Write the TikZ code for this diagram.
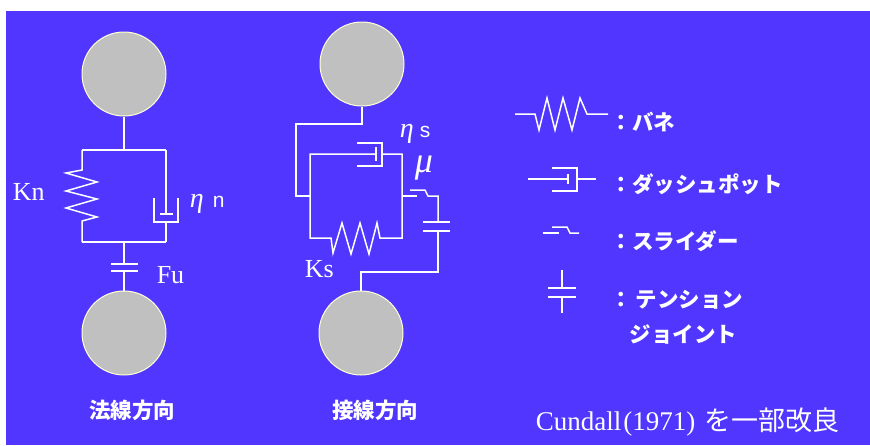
\documentclass[tikz,border=0pt]{standalone}
\usepackage{fontspec}
\setmainfont{Liberation Serif}
\setsansfont{Liberation Sans}
\newfontfamily\jpfont{Noto Sans CJK JP}
\usetikzlibrary{positioning}

\definecolor{bgblue}{RGB}{80,54,255}
\definecolor{ballgray}{RGB}{192,192,192}
\definecolor{rimyellow}{RGB}{255,255,215}

\tikzset{
  ball/.style={circle,draw=rimyellow,line width=1pt,fill=ballgray,
               minimum size=84pt,inner sep=0pt},
  lbl/.style={text=white,inner sep=0pt},
  sym/.style={lbl,font=\fontsize{26}{26}\selectfont},
  greek/.style={lbl,font=\itshape\fontsize{28}{28}\selectfont},
  jp/.style={lbl,font=\jpfont\bfseries\fontsize{21.5}{21.5}\selectfont},
}

\begin{document}
\begin{tikzpicture}[x=1pt,y=-1pt,line width=1.5pt,draw=white]

  \useasboundingbox (0,0) rectangle (870,445);
  \fill[white] (0,0) rectangle (870,445);
  \fill[bgblue] (6,11) rectangle (870,445);

  % normal direction
  \node[ball] (nTop) at (124,74)  {};
  \node[ball] (nBot) at (124,333) {};
  \coordinate (nUp)  at (124,150);
  \coordinate (nLow) at (124,242);
  \draw (nTop.south) -- (nUp);
  \draw (82,150) -- (166,150);
  \draw (82,150) -- (82,170) -- (66,173) -- (97,182) -- (66,191) -- (97,199)
        -- (66,208) -- (97,217) -- (82,221) -- (82,242);
  \draw (166,150) -- (166,214);
  \draw (160,214) -- (173,214);
  \draw (154,198) -- (154,222) -- (178,222) -- (178,198);
  \draw (166,222) -- (166,242);
  \draw (82,242) -- (166,242);
  \draw (nLow) -- (124,264);
  \draw (111,264) -- (138,264);
  \draw (111,271) -- (138,271);
  \draw (124,271) -- (nBot.north);

  \node[sym,anchor=base west] (kn) at (12,200)  {Kn};
  \node[greek,anchor=base west] (etan) at (189,207) {η};
  \node[lbl,anchor=base west,font=\sffamily\fontsize{21}{21}\selectfont]
        (n) at (212,207) {n};
  \node[sym,anchor=base west] (fu) at (156,283) {Fu};
  \node[jp] (normal) at (132,410) {法線方向};

  % shear direction
  \node[ball] (sTop) at (362,64)  {};
  \node[ball] (sBot) at (361,333) {};
  \draw (sTop.south) -- (362,124) -- (296,124) -- (296,196) -- (310,196);
  \draw (376,154) -- (310,154) -- (310,238) -- (331,238) -- (333,253)
        -- (342,223) -- (351,254) -- (360,223) -- (369,254) -- (377,223)
        -- (380,238) -- (402,238) -- (402,154) -- (382,154);
  \draw (376,147) -- (376,161);
  \draw (357,143) -- (382,143) -- (382,166) -- (357,166);
  \draw (402,196) -- (417,196);
  \draw (410,190) -- (425,190) -- (428,196) -- (438,196) -- (438,222);
  \draw (423,222) -- (450,222);
  \draw (423,231) -- (450,231);
  \draw (438,231) -- (438,272) -- (361,272) -- (sBot.north);

  \node[greek,anchor=base west] (etas) at (399,137) {η};
  \node[lbl,anchor=base west,font=\sffamily\fontsize{21}{21}\selectfont]
        (s) at (419,137) {s};
  \node[lbl,anchor=base west,font=\itshape\fontsize{36}{36}\selectfont]
        (mu) at (414,172) {μ};
  \node[sym,anchor=base west] (ks) at (304,277) {Ks};
  \node[jp] (shear) at (375,410) {接線方向};

  % legend
  \draw (515,114) -- (535,114) -- (539,130) -- (547,98) -- (555,130)
        -- (563,98) -- (572,130) -- (580,98) -- (587,114) -- (608,114);
  \draw (528,179) -- (568,179);
  \draw (568,174) -- (568,184);
  \draw (552,168) -- (577,168) -- (577,191) -- (552,191);
  \draw (577,179) -- (596,179);
  \draw (543,233) -- (559,233);
  \draw (552,227) -- (567,227) -- (570,233) -- (579,233);
  \draw (562,270) -- (562,288);
  \draw (548,288) -- (576,288);
  \draw (548,297) -- (576,297);
  \draw (562,297) -- (562,313);

  \node[jp,anchor=west] (spring) at (610,122) {：バネ};
  \node[jp,anchor=west] (dash)   at (610,184) {：ダッシュポット};
  \node[jp,anchor=west] (slide)  at (610,241) {：スライダー};
  \node[jp,anchor=west] (tens)   at (610,300) {：\,テンション};
  \node[jp,anchor=west] (joint)  at (629,334) {ジョイント};

  \node[lbl,anchor=base west] (cite) at (535,430)
        {\fontsize{27}{27}\selectfont Cundall\kern2pt(1971)\kern9pt{\jpfont を一部改良}};

\end{tikzpicture}
\end{document}
